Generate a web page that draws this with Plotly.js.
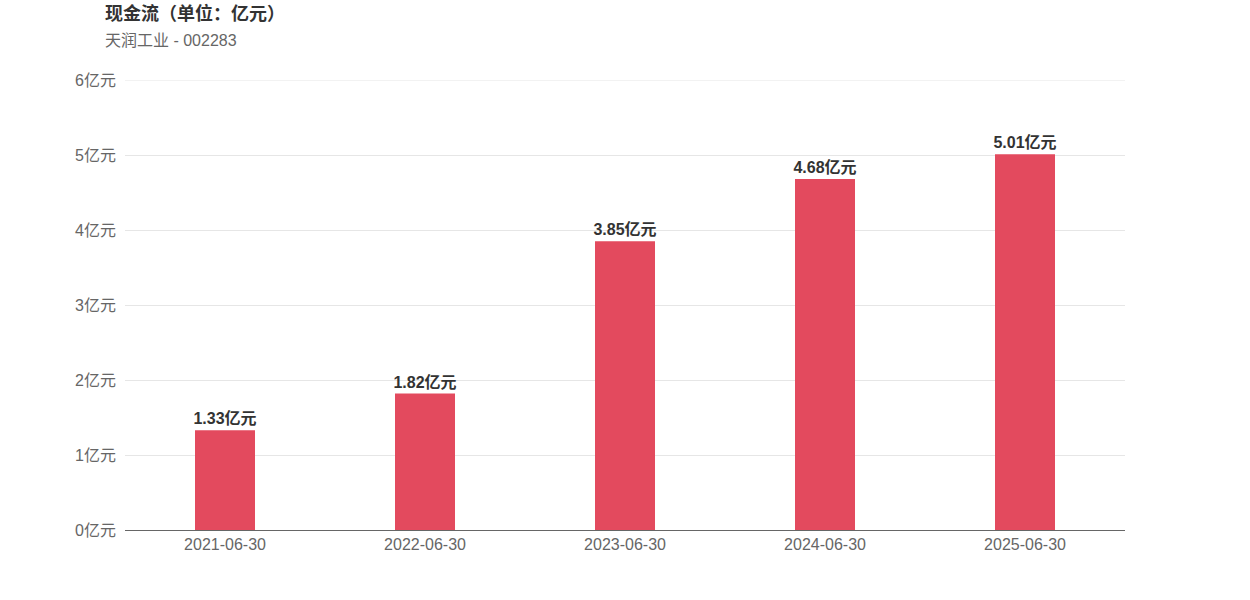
<!DOCTYPE html>
<html>
<head>
<meta charset="utf-8">
<script src="https://cdn.plot.ly/plotly-3.0.1.min.js"></script>
<style>html,body{margin:0;padding:0;background:#fff;}#chart{width:1250px;height:600px;}</style>
</head>
<body>
<div id="chart"></div>
<script>
const categories = ["2021-06-30", "2022-06-30", "2023-06-30", "2024-06-30", "2025-06-30"];
const values = [1.33, 1.82, 3.85, 4.68, 5.01];
const yTickVals = [0, 1, 2, 3, 4, 5, 6];
const yTickText = ["0亿元", "1亿元", "2亿元", "3亿元", "4亿元", "5亿元", "6亿元"];
const titleText = "现金流（单位：亿元）";
const subtitleText = "天润工业 - 002283";

const FONT = "'Liberation Sans', Arial, 'Noto Sans CJK SC', sans-serif";
const yMax = yTickVals[yTickVals.length - 1];

const trace = {
  type: "bar",
  x: categories,
  y: values,
  marker: {color: "#e34a5e"},
  width: 0.3,
  text: values.map(v => v.toFixed(2) + "亿元"),
  textposition: "outside",
  constraintext: "none",
  cliponaxis: false,
  textfont: {family: FONT, size: 16, color: "#333333", weight: "bold"},
  hoverinfo: "none"
};

const layout = {
  width: 1250, height: 600,
  margin: {l: 125, r: 125, t: 80, b: 70},
  paper_bgcolor: "#ffffff", plot_bgcolor: "#ffffff",
  showlegend: false,
  font: {family: FONT, size: 16, color: "#666666"},
  xaxis: {
    type: "category",
    showgrid: false,
    showline: true, linecolor: "#666666", linewidth: 1,
    ticks: "", tickfont: {size: 16, color: "#666666"},
    fixedrange: true
  },
  yaxis: {
    range: [0, yMax],
    tickvals: yTickVals, ticktext: yTickText,
    showgrid: true, gridcolor: "#e6e6e6", gridwidth: 1,
    zeroline: false, showline: false, ticks: "",
    ticklabelstandoff: 8,
    tickfont: {size: 16, color: "#666666"},
    fixedrange: true
  },
  shapes: [
    {type: "line", xref: "paper", yref: "y", x0: 0, x1: 1, y0: yMax, y1: yMax,
     line: {color: "#e6e6e6", width: 1}, layer: "below"}
  ],
  annotations: [
    {text: "<b>" + titleText + "</b>", xref: "paper", yref: "paper", x: -22/1000, y: 1 + 67/450,
     xanchor: "left", yanchor: "middle", showarrow: false,
     font: {family: FONT, size: 18, color: "#333333"}},
    {text: subtitleText, xref: "paper", yref: "paper", x: -22/1000, y: 1 + 40/450,
     xanchor: "left", yanchor: "middle", showarrow: false,
     font: {family: FONT, size: 16, color: "#666666"}}
  ]
};

Plotly.newPlot("chart", [trace], layout, {displayModeBar: false, staticPlot: true});
</script>
</body>
</html>
